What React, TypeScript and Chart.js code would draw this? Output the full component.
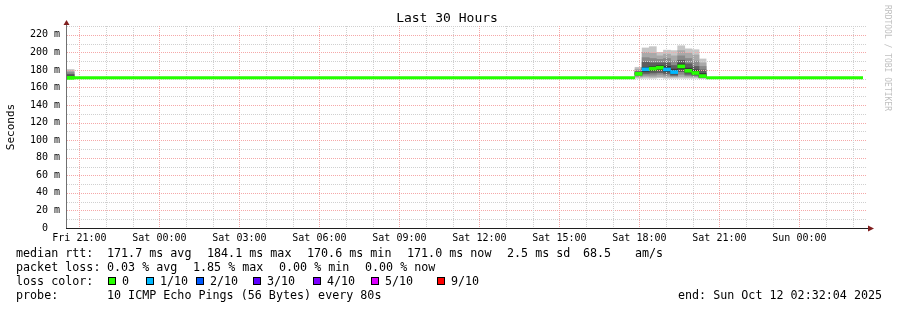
import React, { useEffect, useRef } from "react";
import { Chart, registerables } from "chart.js";

Chart.register(...registerables);

// ---- time axis: hours since window start (Fri 20:32:04), 30 hours shown ----
const windowHours = 30;
const firstFullHour = 0.4656; // Fri 21:00 relative to window start
const hourTickCount = 30;
const timeLabels = [
  "Fri 21:00", "Sat 00:00", "Sat 03:00", "Sat 06:00", "Sat 09:00",
  "Sat 12:00", "Sat 15:00", "Sat 18:00", "Sat 21:00", "Sun 00:00",
];

// ---- value axis (ms) ----
const yMax = 230;
const yTickStep = 10;
const yLabelStep = 20;

// ---- flat median (loss 0) trace ----
const baselineHours = [0, 21.3, 22.5, 23.967, 29.85];
const baselineMs = [171, 171, null, 171, 171];

// ---- smoke samples (16 min consolidation) ----
const sampleHours = [0.133, 21.433, 21.7, 21.967, 22.233, 22.5, 22.767, 23.033, 23.3, 23.567, 23.833];
const pingMin = [171, 170.5, 170.5, 170.5, 171, 170.5, 170.5, 170.5, 170.5, 170.5, 170.5];
const ping2 = [171, 172, 172.5, 172, 172.5, 172, 172, 172.5, 172, 172, 170.8];
const ping3 = [171.5, 173, 174, 174, 175, 174, 173, 175, 173.5, 173, 171];
const ping4 = [172, 174, 176, 176.5, 177, 176, 174, 178, 175, 174, 171.5];
const ping5 = [172.5, 175, 178, 179, 180, 178, 175.5, 181, 177, 175, 172];
const medianMs = [171, 175.5, 180.7, 181.5, 182.5, 180.5, 177.5, 184, 179, 176.5, 173];
const ping6 = [173, 176.5, 183, 184, 185, 184, 181, 187, 182, 180, 176];
const ping7 = [175, 178, 189, 188, 188, 188, 185, 191, 187, 184, 180];
const ping8 = [177, 179, 194, 193, 192, 193, 190, 196, 193, 190, 184];
const ping9 = [179, 181, 200, 199, 196, 198, 196, 202, 199, 197, 188];
const pingMax = [180.5, 183, 205, 206.5, 200, 202.5, 202, 207.5, 204, 203, 192.5];
const lossTenths = [0, 0, 1, 0, 0, 1, 1, 0, 0, 0, 0];

// ---- loss colour legend ----
const lossLabels = ["0", "1/10", "2/10", "3/10", "4/10", "5/10", "9/10"];
const lossTenthsKeys = [0, 1, 2, 3, 4, 5, 9];
const lossColors = ["#26ff00", "#00b8ff", "#0059ff", "#5e00ff", "#7e00ff", "#dd00ff", "#ff0000"];

// ---- statistics text ----
const rttStats = ["171.7 ms avg", "184.1 ms max", "170.6 ms min", "171.0 ms now", "2.5 ms sd", "68.5", "am/s"];
const lossStats = ["0.03 % avg", "1.85 % max", "0.00 % min", "0.00 % now"];
const probeText = "10 ICMP Echo Pings (56 Bytes) every 80s";
const endText = "end: Sun Oct 12 02:32:04 2025";
const titleText = "Last 30 Hours";
const yTitle = "Seconds";
const watermark = "RRDTOOL / TOBI OETIKER";

const smokeBands = [
  { lo: pingMin, hi: pingMax, color: "#c6c6c6" },
  { lo: ping2, hi: ping9, color: "#a9a9a9" },
  { lo: ping3, hi: ping8, color: "#8a8a8a" },
  { lo: ping4, hi: ping7, color: "#5e5e5e" },
  { lo: ping5, hi: ping6, color: "#363636" },
];

const MONO = '"DejaVu Sans Mono", monospace';
const GRID_RED = "#f5a8a8";
const GRID_GRAY = "#d0d0d0";
const ARROW = "#801f1f";

function colorForLoss(t: number) {
  const i = lossTenthsKeys.indexOf(t);
  return lossColors[i >= 0 ? i : 0];
}

function drawDottedGrid(chart: any) {
  const ctx = chart.ctx as CanvasRenderingContext2D;
  const xs = chart.scales.x;
  const ys = chart.scales.y;
  const a = chart.chartArea;
  const top = Math.round(a.top);
  const bottom = Math.round(a.bottom);
  const left = Math.round(a.left);
  const right = Math.round(a.right);
  ctx.save();
  ys.ticks.forEach((t: any) => {
    const py = Math.round(ys.getPixelForValue(t.value));
    if (py >= bottom) return;
    ctx.fillStyle = t.value % yLabelStep === 0 ? GRID_RED : GRID_GRAY;
    for (let x = left; x < right; x += 2) ctx.fillRect(x, py, 1, 1);
  });
  xs.ticks.forEach((t: any, i: number) => {
    const px = Math.round(xs.getPixelForValue(t.value));
    ctx.fillStyle = i % 3 === 0 ? GRID_RED : GRID_GRAY;
    for (let y = top; y < bottom; y += 2) ctx.fillRect(px, y, 1, 1);
  });
  ctx.restore();
}

const decorPlugin = {
  id: "decor",
  beforeDatasetsDraw(chart: any) {
    drawDottedGrid(chart);
  },
  afterDatasetDraw(chart: any, args: any) {
    const ds = chart.data.datasets[args.index];
    if (ds && ds.label === "smoke-5") drawDottedGrid(chart);
  },
  afterDraw(chart: any) {
    const ctx = chart.ctx as CanvasRenderingContext2D;
    const xs = chart.scales.x;
    const ys = chart.scales.y;
    const area = chart.chartArea;
    ctx.save();

    const axisX = Math.round(area.left) - 1;
    const axisY = Math.round(area.bottom);
    ctx.fillStyle = "#707070";
    ctx.fillRect(axisX, area.top - 1, 1, axisY - area.top + 2);
    ctx.fillStyle = "#1f1f1f";
    ctx.fillRect(axisX, axisY, Math.round(area.right) - axisX + 2, 1);
    ctx.fillStyle = ARROW;
    ctx.beginPath();
    ctx.moveTo(axisX + 0.5, area.top - 6);
    ctx.lineTo(axisX - 2.5, area.top - 1);
    ctx.lineTo(axisX + 3.5, area.top - 1);
    ctx.closePath();
    ctx.fill();
    const ax = Math.round(area.right) + 1;
    ctx.beginPath();
    ctx.moveTo(ax + 6, axisY + 0.5);
    ctx.lineTo(ax, axisY - 2.5);
    ctx.lineTo(ax, axisY + 3.5);
    ctx.closePath();
    ctx.fill();

    ctx.fillStyle = "#000000";
    ctx.font = `10px ${MONO}`;
    ctx.textBaseline = "middle";
    ctx.textAlign = "right";
    for (let v = 0; v <= yMax; v += yLabelStep) {
      const y = ys.getPixelForValue(v);
      if (v === 0) ctx.fillText("0", 48, y);
      else ctx.fillText(`${v} m`, 60, y);
    }
    ctx.textAlign = "center";
    timeLabels.forEach((lab, i) => {
      const x = xs.getPixelForValue(firstFullHour + i * 3);
      ctx.fillText(lab, x, 238);
    });

    ctx.font = `13px ${MONO}`;
    ctx.textAlign = "center";
    ctx.fillText(titleText, 447, 19);

    ctx.save();
    ctx.font = `11px ${MONO}`;
    ctx.translate(11, 127);
    ctx.rotate(-Math.PI / 2);
    ctx.textAlign = "center";
    ctx.fillText(yTitle, 0, 0);
    ctx.restore();

    ctx.save();
    ctx.font = `8px ${MONO}`;
    ctx.fillStyle = "#c0c0c0";
    ctx.translate(887, 5);
    ctx.rotate(Math.PI / 2);
    ctx.textAlign = "left";
    ctx.fillText(watermark, 0, 0);
    ctx.restore();

    ctx.font = `11.7px ${MONO}`;
    ctx.textAlign = "left";
    ctx.fillStyle = "#000000";
    ctx.fillText("median rtt:", 16, 254);
    const rttX = [107, 207, 307, 407, 507, 583, 635];
    rttStats.forEach((s, i) => ctx.fillText(s, rttX[i], 254));
    ctx.fillText("packet loss:", 16, 268);
    const lossX = [107, 193, 279, 365];
    lossStats.forEach((s, i) => ctx.fillText(s, lossX[i], 268));
    ctx.fillText("loss color:", 16, 282);
    const boxX = [108, 146, 196, 253, 313, 371, 437];
    lossLabels.forEach((lab, i) => {
      ctx.fillStyle = "#000000";
      ctx.fillRect(boxX[i], 277, 8, 8);
      ctx.fillStyle = lossColors[i];
      ctx.fillRect(boxX[i] + 1, 278, 6, 6);
      ctx.fillStyle = "#000000";
      ctx.fillText(lab, boxX[i] + 14, 282);
    });
    ctx.fillText("probe:", 16, 296);
    ctx.fillText(probeText, 107, 296);
    ctx.fillText(endText, 678, 296);

    ctx.restore();
  },
};

export default function App() {
  const ref = useRef<HTMLCanvasElement | null>(null);

  useEffect(() => {
    document.body.style.margin = "0";
    const canvas = ref.current;
    if (!canvas) return;

    const hourTicks: number[] = [];
    for (let k = 0; k < hourTickCount; k++) hourTicks.push(firstFullHour + k);
    const yTicks: number[] = [];
    for (let v = 0; v <= yMax; v += yTickStep) yTicks.push(v);

    const smokeDatasets = smokeBands.map((b, bi) => ({
      type: "bar" as const,
      label: `smoke-${bi + 1}`,
      data: sampleHours.map((h, i) => ({ x: h, y: [b.lo[i], b.hi[i]] })),
      backgroundColor: b.color,
      borderWidth: 0,
      grouped: false,
      barPercentage: 1,
      categoryPercentage: 1,
      order: 10 - bi,
    }));

    const chart = new Chart(canvas, {
      type: "bar",
      data: {
        datasets: [
          ...smokeDatasets,
          {
            type: "line",
            label: "median-flat",
            data: baselineHours.map((h, i) => ({ x: h, y: baselineMs[i] })),
            borderColor: lossColors[0],
            borderWidth: 3,
            borderCapStyle: "butt",
            pointRadius: 0,
            tension: 0,
            spanGaps: false,
            order: 2,
          } as any,
          {
            type: "bar",
            label: "median",
            data: sampleHours.map((h, i) => ({ x: h, y: [medianMs[i] - 1.7, medianMs[i] + 1.7] })),
            backgroundColor: lossTenths.map(colorForLoss),
            borderWidth: 0,
            grouped: false,
            barPercentage: 1,
            categoryPercentage: 1,
            order: 1,
          } as any,
        ],
      },
      options: {
        responsive: false,
        animation: false,
        events: [],
        layout: { padding: { left: 67, right: 30, top: 26, bottom: 82 } },
        plugins: {
          legend: { display: false },
          tooltip: { enabled: false },
          title: { display: false },
        },
        scales: {
          x: {
            type: "linear",
            min: 0,
            max: windowHours,
            offset: false,
            grid: { display: false, offset: false, drawTicks: false },
            border: { display: false },
            ticks: { display: false },
            afterBuildTicks: (s: any) => {
              s.ticks = hourTicks.map((v) => ({ value: v }));
            },
          },
          y: {
            type: "linear",
            min: 0,
            max: yMax,
            grid: { display: false, drawTicks: false },
            border: { display: false },
            ticks: { display: false },
            afterBuildTicks: (s: any) => {
              s.ticks = yTicks.map((v) => ({ value: v }));
            },
          },
        } as any,
      },
      plugins: [decorPlugin as any],
    });

    return () => chart.destroy();
  }, []);

  return (
    <div style={{ width: 897, height: 310, background: "#ffffff" }}>
      <canvas ref={ref} width={897} height={310} style={{ display: "block" }} />
    </div>
  );
}
